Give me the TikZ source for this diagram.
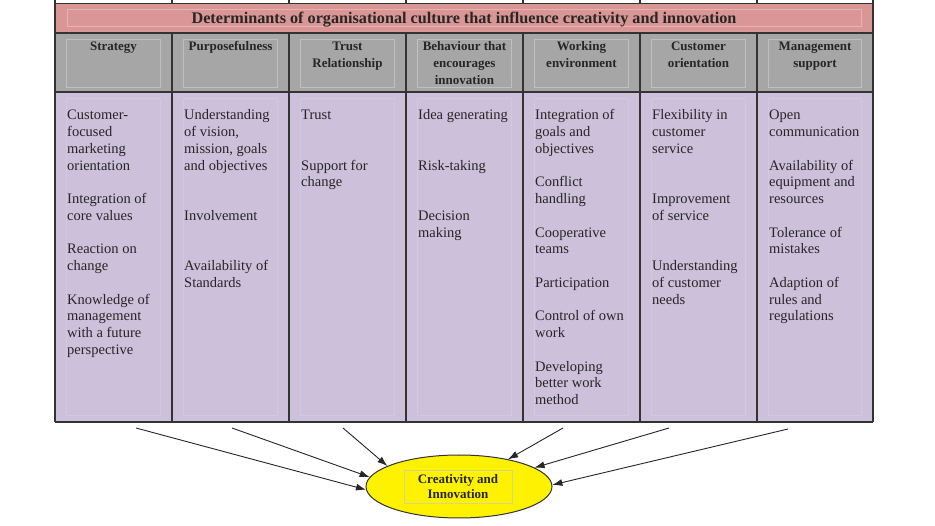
\documentclass[tikz,border=0pt]{standalone}
\usepackage{fontspec}
\setmainfont{Liberation Serif}
\usetikzlibrary{shapes.geometric,arrows.meta}
\definecolor{pinkrow}{HTML}{DA9694}
\definecolor{grayrow}{HTML}{A6A6A6}
\definecolor{lavrow}{HTML}{CCC0DA}
\definecolor{gridline}{HTML}{333333}
\definecolor{inktext}{HTML}{262626}
% name, x, first line index, number of lines, text (base anchor = last line)
\newcommand\bodyline[5]{\node[bodyt] (#1) at (#2,{120+16.75*(#3+#4-1)}) {#5};}
\begin{document}
\begin{tikzpicture}[x=1pt,y=-1pt,
  grid/.style={draw=gridline,line width=1.3pt},
  faint/.style={draw=white,draw opacity=0.3,line width=0.8pt},
  fainter/.style={draw=white,draw opacity=0.15,line width=0.8pt},
  bodyt/.style={anchor=base west,inner sep=0pt,align=left,font=\fontsize{14.5}{16.75}\selectfont,text=inktext},
  headt/.style={anchor=base,inner sep=0pt,align=center,font=\fontsize{13}{17}\selectfont\bfseries,text=inktext},
  arr/.style={-{Latex[length=10pt,width=7pt]},line width=0.9pt,draw=black!85},
]
\useasboundingbox (0,0) rectangle (935,526);
\fill[white] (0,0) rectangle (935,526);
% row fills
\fill[pinkrow] (55,3.5) rectangle (873,33);
\fill[grayrow] (55,33) rectangle (873,92);
\fill[lavrow] (55,92) rectangle (873,422);
% faint inner boxes
\draw[faint] (67,9.5) rectangle (861,26.5);
\foreach \l/\r in {55/172,172/289,289/406,406/523,523/640,640/757,757/873}{
  \draw[faint] (\l+11,39) rectangle (\r-12,87);
  \draw[fainter] (\l+11,98) rectangle (\r-12,415);
}
% grid
\draw[grid] (55,3.5) -- (873,3.5) (55,33) -- (873,33) (55,92) -- (873,92) (55,422) -- (873,422);
\foreach \x in {55,172,289,406,523,640,757,873}{
  \draw[grid] (\x,0) -- (\x,3.5) (\x,33) -- (\x,422);
}
\draw[grid] (55,3.5) -- (55,33) (873,3.5) -- (873,33);
% title
\node[anchor=base,inner sep=0pt,font=\fontsize{16.2}{18}\selectfont\bfseries,text=inktext] (title) at (464,24)
  {Determinants of organisational culture that influence creativity and innovation};
% headers (base anchor = last line)
\node[headt] (h1) at (113.5,51) {Strategy};
\node[headt] (h2) at (230.5,51) {Purposefulness};
\node[headt] (h3) at (347.5,68) {Trust\\Relationship};
\node[headt] (h4) at (464.5,85) {Behaviour that\\encourages\\innovation};
\node[headt] (h5) at (581.5,68) {Working\\environment};
\node[headt] (h6) at (698.5,68) {Customer\\orientation};
\node[headt] (h7) at (815,68) {Management\\support};
% column 1
\bodyline{a1}{67}{0}{4}{Customer-\\focused\\marketing\\orientation}
\bodyline{a2}{67}{5}{2}{Integration of\\core values}
\bodyline{a3}{67}{8}{2}{Reaction on\\change}
\bodyline{a4}{67}{11}{4}{Knowledge of\\management\\with a future\\perspective}
% column 2
\bodyline{b1}{184}{0}{4}{Understanding\\of vision,\\mission, goals\\and objectives}
\bodyline{b2}{184}{6}{1}{Involvement}
\bodyline{b3}{184}{9}{2}{Availability of\\Standards}
% column 3
\bodyline{c1}{301}{0}{1}{Trust}
\bodyline{c2}{301}{3}{2}{Support for\\change}
% column 4
\bodyline{d1}{418}{0}{1}{Idea generating}
\bodyline{d2}{418}{3}{1}{Risk-taking}
\bodyline{d3}{418}{6}{2}{Decision\\making}
% column 5
\bodyline{e1}{535}{0}{3}{Integration of\\goals and\\objectives}
\bodyline{e2}{535}{4}{2}{Conflict\\handling}
\bodyline{e3}{535}{7}{2}{Cooperative\\teams}
\bodyline{e4}{535}{10}{1}{Participation}
\bodyline{e5}{535}{12}{2}{Control of own\\work}
\bodyline{e6}{535}{15}{3}{Developing\\better work\\method}
% column 6
\bodyline{f1}{652}{0}{3}{Flexibility in\\customer\\service}
\bodyline{f2}{652}{5}{2}{Improvement\\of service}
\bodyline{f3}{652}{9}{3}{Understanding\\of customer\\needs}
% column 7
\bodyline{g1}{769}{0}{2}{Open\\communication}
\bodyline{g2}{769}{3}{3}{Availability of\\equipment and\\resources}
\bodyline{g3}{769}{7}{2}{Tolerance of\\mistakes}
\bodyline{g4}{769}{10}{3}{Adaption of\\rules and\\regulations}
% ellipse
\node[ellipse,draw=black!80,line width=1pt,fill=yellow,minimum width=186pt,minimum height=63pt,inner sep=0pt] (ci) at (459,486.5) {};
\node[draw=olive!35,line width=0.5pt,minimum width=108pt,minimum height=33pt,inner sep=0pt,align=center,
  font=\fontsize{13}{14.5}\selectfont\bfseries,text=inktext] (citext) at (458,486.5) {Creativity and\\Innovation};
% arrow starts
\coordinate (s1) at (136,428);
\coordinate (s2) at (232,428);
\coordinate (s3) at (343,428);
\coordinate (s4) at (563,428);
\coordinate (s5) at (669,428);
\coordinate (s6) at (788,429);
\draw[arr] (s1) -- (ci.182);
\draw[arr] (s2) -- (ci.174);
\draw[arr] (s3) -- (ci.164.6);
\draw[arr] (s4) -- (ci.29.2);
\draw[arr] (s5) -- (ci.14);
\draw[arr] (s6) -- (ci.1);
\end{tikzpicture}
\end{document}
